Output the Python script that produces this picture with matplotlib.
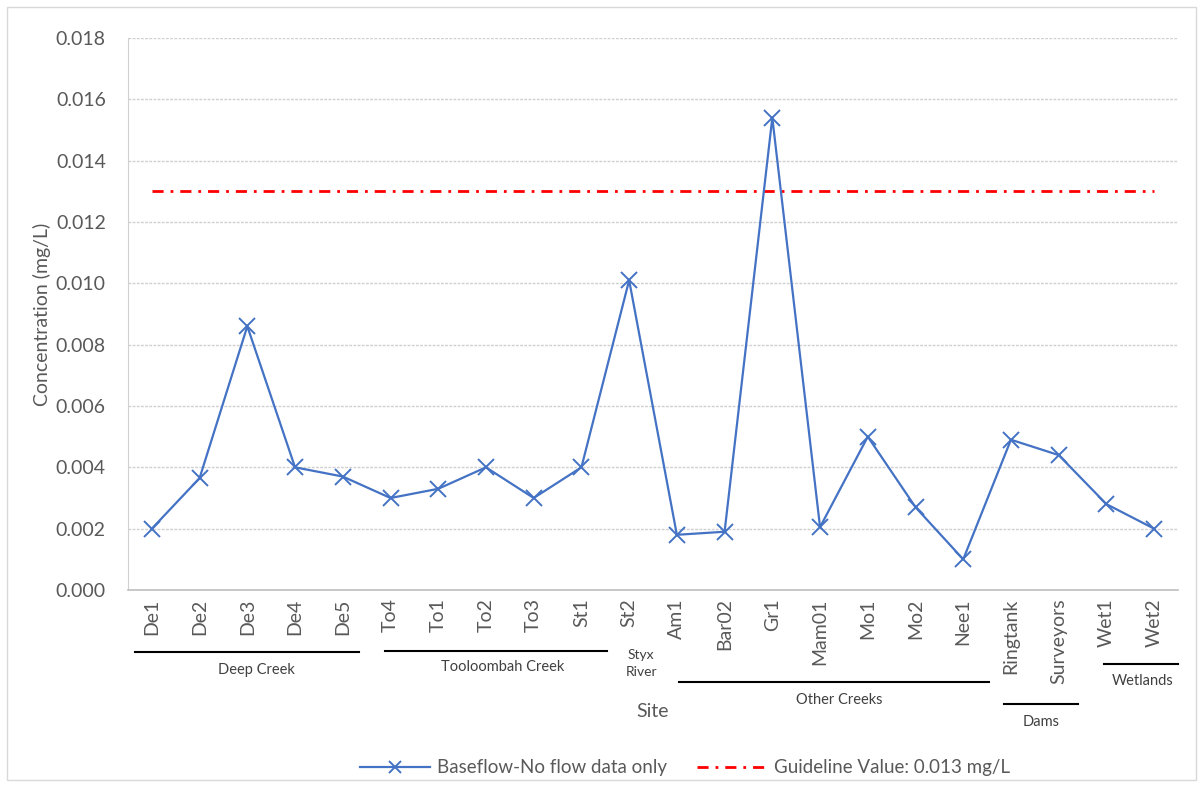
import matplotlib
matplotlib.use("Agg")
import matplotlib.pyplot as plt
from matplotlib.lines import Line2D
from matplotlib.patches import Rectangle

plt.rcParams['font.family'] = ['Lato', 'DejaVu Sans']

# Sampling sites and measured concentrations (mg/L)
sites = ["De1", "De2", "De3", "De4", "De5", "To4", "To1", "To2", "To3", "St1",
         "St2", "Am1", "Bar02", "Gr1", "Mam01", "Mo1", "Mo2", "Nee1",
         "Ringtank", "Surveyors", "Wet1", "Wet2"]
baseflow = [0.0020, 0.00365, 0.0086, 0.0040, 0.0037, 0.0030, 0.0033, 0.0040,
            0.0030, 0.0040, 0.0101, 0.0018, 0.0019, 0.0154, 0.00205, 0.0050,
            0.0027, 0.0010, 0.0049, 0.0044, 0.0028, 0.0020]
guideline = 0.013
yticks = [0.000, 0.002, 0.004, 0.006, 0.008, 0.010, 0.012, 0.014, 0.016, 0.018]

# Site groups: label, underline extent (x from, x to), line y, label x, label y
groups = [
    ("Deep Creek", -0.36, 4.33, -0.112, 2.2, -0.145),
    ("Tooloombah Creek", 4.88, 9.53, -0.110, 7.35, -0.139),
    ("Other Creeks", 11.05, 17.55, -0.167, 14.4, -0.200),
    ("Dams", 17.85, 19.40, -0.207, 18.63, -0.239),
    ("Wetlands", 19.95, 21.50, -0.134, 20.75, -0.165),
]

W, H = 1203, 787
fig = plt.figure(figsize=(W / 100, H / 100), dpi=100)
ax = fig.add_axes([128 / W, 1 - 590 / H, (1178 - 128) / W, (590 - 38) / H])

blue = "#4472C4"
grey_txt = "#595959"
x = list(range(len(sites)))

ax.plot(x, baseflow, color=blue, lw=1.6, marker="x", markersize=11,
        markeredgewidth=1.4, label="Baseflow-No flow data only", zorder=3)
ax.plot([x[0], x[-1]], [guideline, guideline], color="#FF0000", lw=2,
        linestyle=(0, (4, 2.5, 1, 2.5)), label="Guideline Value: 0.013 mg/L",
        zorder=2)

ax.set_xlim(-0.5, len(sites) - 0.5)
ax.set_ylim(0, 0.018)
ax.set_yticks(yticks)
ax.set_yticklabels([f"{v:.3f}" for v in yticks], fontsize=14, color=grey_txt)
ax.set_xticks(x)
ax.set_xticklabels(sites, rotation=90, fontsize=14, color=grey_txt, va="top")
ax.tick_params(axis="y", length=0, pad=16)
ax.tick_params(axis="x", length=0, pad=6)

ax.grid(axis="y", color="#D0D0D0", linestyle=(0, (2, 1)), lw=1)
ax.set_axisbelow(True)
for s in ["top", "right"]:
    ax.spines[s].set_visible(False)
ax.spines["left"].set_color("#D0D0D0")
ax.spines["bottom"].set_color("#BFBFBF")
ax.spines["bottom"].set_linewidth(1.2)

ax.set_ylabel("Concentration (mg/L)", fontsize=14, color=grey_txt, labelpad=3)

# Group underlines and labels below the site names
tr = ax.get_xaxis_transform()
for name, x0, x1, ly, tx, ty in groups:
    ax.add_line(Line2D([x0, x1], [ly, ly], transform=tr, color="black",
                       lw=1.5, clip_on=False))
    ax.text(tx, ty, name, transform=tr, ha="center", va="center",
            fontsize=10.5, color="#404040")
ax.text(10.25, -0.133, "Styx\nRiver", transform=tr, ha="center", va="center",
        fontsize=10, color="#404040", linespacing=1.5)
ax.text(10.5, -0.221, "Site", transform=tr, ha="center", va="center",
        fontsize=14, color=grey_txt)

fig.legend(loc="center", bbox_to_anchor=(0.5695, 1 - 768 / H), ncol=2,
           frameon=False, fontsize=13.5, handlelength=3.7, columnspacing=1.6,
           labelcolor=grey_txt, handletextpad=0.4, markerscale=0.8)

# Light chart border
fig.patches.append(Rectangle((7 / W, 7 / H), 1 - 14 / W, 1 - 14 / H,
                             transform=fig.transFigure, fill=False,
                             edgecolor="#D9D9D9", lw=1))

fig.savefig("out.png", dpi=100)
